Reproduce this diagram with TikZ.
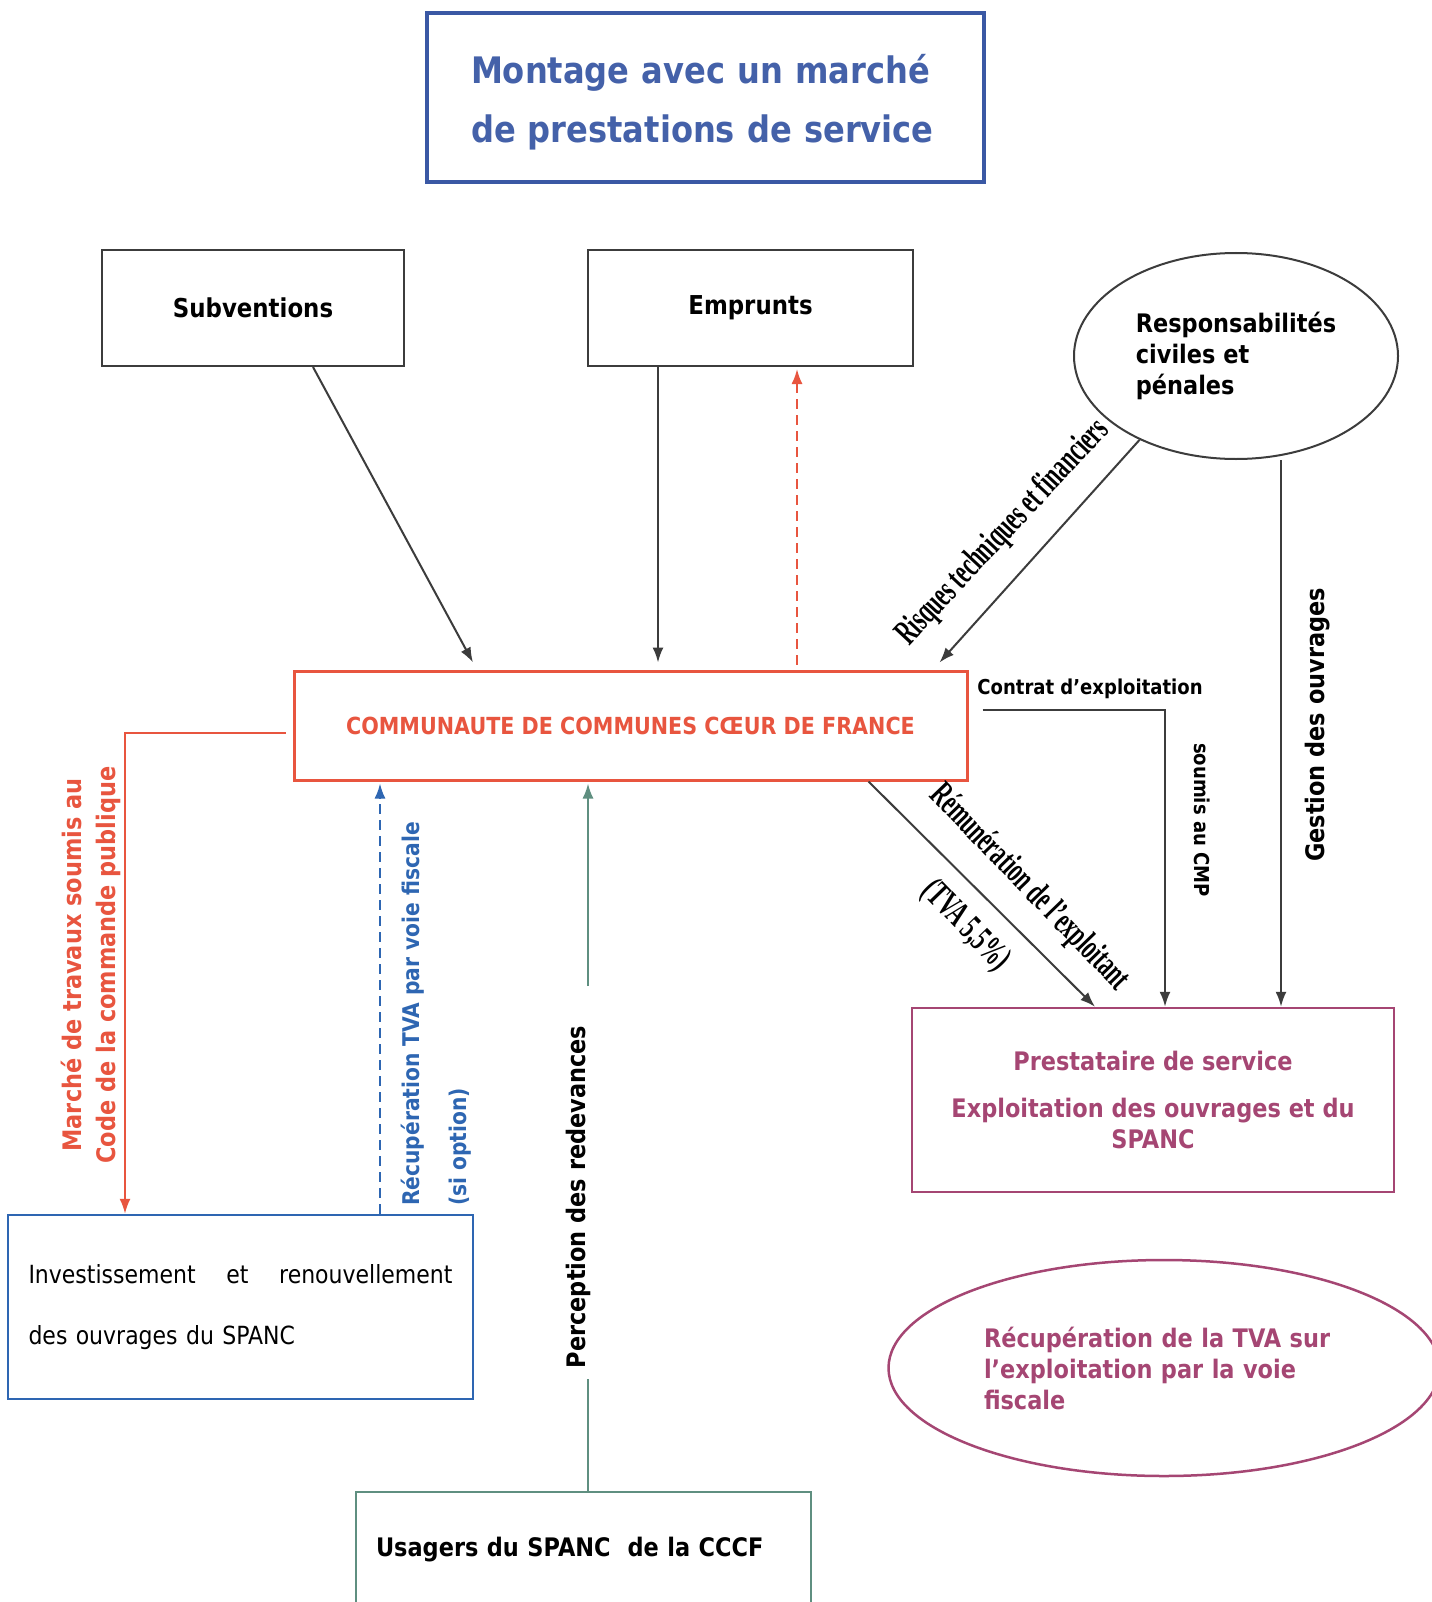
\documentclass[tikz,border=0pt]{standalone}
\usepackage{fontspec}
\usepackage{graphicx}
\setmainfont{DejaVu Sans}[FakeStretch=0.88]
\newfontfamily\serifc{Liberation Serif}[FakeStretch=0.6]
\usetikzlibrary{arrows.meta,shapes.geometric}
\definecolor{ttext}{HTML}{4461A9}
\definecolor{tborder}{HTML}{3A58A4}
\definecolor{cred}{HTML}{E8553F}
\definecolor{cmag}{HTML}{A54673}
\definecolor{cblue2}{HTML}{2E66B2}
\definecolor{cgreen}{HTML}{5F8F80}
\definecolor{lineg}{HTML}{3C3C3C}
\newcommand\fsz[2]{\fontsize{#1pt}{#2pt}\selectfont}
\tikzset{
  rbox/.style={draw=lineg, rectangle, line width=2pt, inner sep=0pt, align=center},
  arr/.style={line width=2pt, draw=lineg, -{Latex[length=15pt,width=11pt]}},
  lbl/.style={font=\bfseries\fsz{25.5}{31}, inner sep=0pt},
  cond/.style={font=\serifc\bfseries\fsz{36}{40}, inner sep=0pt},
}
\begin{document}
\begin{tikzpicture}[x=1pt,y=-1pt]
\useasboundingbox (0,0) rectangle (1431,1602);
\fill[white] (0,0) rectangle (1431,1602);

% nodes
\node[rbox, draw=tborder, line width=4pt, minimum width=557pt, minimum height=169pt,
      text=ttext, font=\bfseries\fsz{36.5}{59}, text width=469pt, align=left] (title) at (705.5,97.5)
      {\rule{0pt}{38pt}Montage avec un marché\\de prestations de service};
\node[rbox, minimum width=302pt, minimum height=116pt, font=\bfseries\fsz{26}{31}] (subv) at (253,308) {Subventions};
\node[rbox, minimum width=325pt, minimum height=116pt, font=\bfseries\fsz{26}{31}] (empr) at (750.5,308) {Emprunts};
\node[ellipse, draw=lineg, line width=2pt, minimum width=324pt, minimum height=206pt, inner sep=0pt,
      align=left, font=\bfseries\fsz{25.5}{31}] (resp) at (1236,356) {Responsabilités\\civiles et\\pénales};
\node[rbox, draw=cred, line width=3pt, minimum width=673pt, minimum height=109pt, text=cred,
      font=\bfseries\fsz{23.5}{28}] (cccf) at (630.5,725.5) {COMMUNAUTE DE COMMUNES CŒUR DE FRANCE};
\node[rbox, draw=cmag, line width=2.5pt, minimum width=482pt, minimum height=184pt, text=cmag,
      font=\bfseries\fsz{25.5}{31}] (prest) at (1153,1100)
      {Prestataire de service\\[16pt]Exploitation des ouvrages et du\\SPANC};
\node[rbox, draw=cblue2, line width=2.5pt, minimum width=465pt, minimum height=184pt,
      font=\fsz{25}{61}, text width=424pt, align=left] (inv) at (240.5,1307)
      {Investissement\hfill et\hfill renouvellement\\des ouvrages du SPANC};
\node[rbox, draw=cgreen, minimum width=455pt, anchor=north, inner ysep=40pt, inner xsep=20pt,
      text width=415pt, align=left, text height=24pt,
      text depth=80pt, font=\bfseries\fsz{25.5}{31}] (usag) at (583.5,1491) {Usagers du SPANC~ de la CCCF};
\node[ellipse, draw=cmag, line width=2.5pt, minimum width=551pt, minimum height=216pt, inner sep=0pt,
      text width=360pt, align=left, text=cmag, font=\bfseries\fsz{25.5}{31}] (recup) at (1164,1368)
      {Récupération de la TVA sur\\l’exploitation par la voie\\fiscale};

% labels
\node[lbl, font=\bfseries\fsz{20.5}{24}] (contrat) at (1090,689) {Contrat d’exploitation};
\node[lbl, font=\bfseries\fsz{20.5}{24}, rotate=-90] (cmp) at (1202,820) {soumis au CMP};
\node[lbl, rotate=90] (gest) at (1318,725) {Gestion des ouvrages};
\node[lbl, rotate=90, text=cred, align=center, font=\bfseries\fsz{25.5}{33.5}] (march) at (91,965)
      {Marché de travaux soumis au\\Code de la commande publique};
\node[lbl, rotate=90, text=cblue2, align=left, font=\bfseries\fsz{23}{28}] (rtva) at (436.5,1014)
      {Récupération TVA par voie fiscale\\[19pt](si option)};
\node[lbl, rotate=90] (perc) at (578,1197) {Perception des redevances};
\node[cond, rotate=47] (risq) at (1003,533) {Risques techniques et financiers};
\node[cond, rotate=-46] (remu) at (1029,888) {Rémunération de l’exploitant};
\node[cond, rotate=-46] (tva) at (965,926) {(TVA 5,5\%)};

% connectors
\draw[arr] ([xshift=60pt]subv.south) -- ([xshift=-157.5pt,yshift=7pt]cccf.north);
\draw[arr] ([xshift=-92.5pt]empr.south) -- ([xshift=27.5pt,yshift=7pt]cccf.north);
\draw[arr, draw=cred, dash pattern=on 10pt off 6pt] ([xshift=166.5pt,yshift=5pt]cccf.north) -- ([xshift=46.5pt,yshift=-2pt]empr.south);
\draw[arr] (resp.221.5) -- ([xshift=-29pt,yshift=7pt]cccf.north east);
\draw[arr] ([xshift=14pt,yshift=15.5pt]cccf.east) -| ([xshift=12pt]prest.north);
\draw[arr] ([xshift=45pt]resp.south) -- ([xshift=128pt]prest.north);
\draw[arr] ([xshift=-100pt]cccf.south east) -- ([xshift=-58pt]prest.north);
\draw[arr, draw=cred] ([xshift=-7pt,yshift=-7.5pt]cccf.west) -| ([xshift=-115.5pt]inv.north);
\draw[arr, draw=cblue2, dash pattern=on 10pt off 6pt] ([xshift=139.5pt]inv.north) -- ([xshift=-250.5pt,yshift=-2pt]cccf.south);
\coordinate (g1) at (588,1379);
\coordinate (g2) at (588,986);
\draw[line width=2pt, draw=cgreen] ([xshift=4.5pt]usag.north) -- (g1);
\draw[arr, draw=cgreen] (g2) -- ([xshift=-42.5pt,yshift=-2pt]cccf.south);
\end{tikzpicture}
\end{document}
